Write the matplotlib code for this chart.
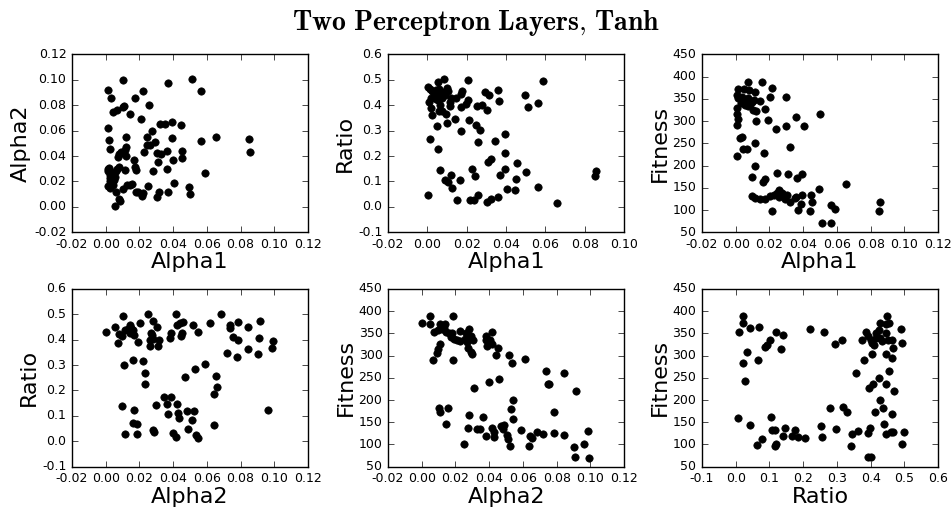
import numpy as np
import matplotlib
matplotlib.use("Agg")
import matplotlib.pyplot as plt

plt.style.use("classic")
plt.rcParams["axes.unicode_minus"] = False
plt.rcParams["mathtext.fontset"] = "cm"

# Alpha1 vs Alpha2
p1_x = [0.0102, 0.0512, 0.0014, 0.0219, 0.0563, 0.0370, 0.0030, 0.0171, 0.0258, 0.0108,
        0.0100, 0.0069, 0.0045, 0.0144, 0.0211, 0.0014, 0.0321, 0.0350, 0.0394, 0.0447,
        0.0272, 0.0120, 0.0244, 0.0394, 0.0563, 0.0656, 0.0848, 0.0858, 0.0022, 0.0026,
        0.0122, 0.0242, 0.0291, 0.0264, 0.0116, 0.0093, 0.0102, 0.0079, 0.0075, 0.0122,
        0.0228, 0.0305, 0.0325, 0.0362, 0.0451, 0.0451, 0.0400, 0.0167, 0.0309, 0.0173,
        0.0177, 0.0281, 0.0362, 0.0114, 0.0589, 0.0014, 0.0012, 0.0022, 0.0028, 0.0037,
        0.0049, 0.0063, 0.0069, 0.0077, 0.0026, 0.0024, 0.0037, 0.0041, 0.0028, 0.0063,
        0.0102, 0.0124, 0.0154, 0.0144, 0.0248, 0.0407, 0.0494, 0.0502, 0.0368, 0.0317,
        0.0305, 0.0220, 0.0213, 0.0191, 0.0177, 0.0079, 0.0085, 0.0053, 0.0049, 0.0055,
        0.0014]
p1_y = [0.0997, 0.1003, 0.0924, 0.0916, 0.0916, 0.0976, 0.0858, 0.0858, 0.0800, 0.0792,
        0.0789, 0.0761, 0.0747, 0.0732, 0.0695, 0.0624, 0.0650, 0.0653, 0.0666, 0.0647,
        0.0597, 0.0553, 0.0547, 0.0539, 0.0521, 0.0553, 0.0532, 0.0434, 0.0526, 0.0458,
        0.0468, 0.0489, 0.0513, 0.0489, 0.0445, 0.0429, 0.0424, 0.0413, 0.0389, 0.0403,
        0.0434, 0.0426, 0.0416, 0.0439, 0.0439, 0.0387, 0.0368, 0.0368, 0.0350, 0.0316,
        0.0289, 0.0279, 0.0300, 0.0287, 0.0263, 0.0297, 0.0279, 0.0305, 0.0253, 0.0239,
        0.0266, 0.0284, 0.0300, 0.0311, 0.0226, 0.0200, 0.0187, 0.0174, 0.0147, 0.0116,
        0.0137, 0.0171, 0.0184, 0.0174, 0.0166, 0.0192, 0.0155, 0.0103, 0.0121, 0.0118,
        0.0076, 0.0113, 0.0089, 0.0118, 0.0116, 0.0063, 0.0050, 0.0008, 0.0213, 0.0232,
        0.0161]

# Alpha1 vs Ratio
p2_x = [0.0084, 0.0055, 0.0208, 0.0590, 0.0003, 0.0014, 0.0024, 0.0034, 0.0044, 0.0058,
        0.0075, 0.0102, 0.0107, 0.0092, 0.0066, 0.0038, 0.0046, 0.0020, 0.0055, 0.0073,
        0.0007, 0.0118, 0.0147, 0.0174, 0.0169, 0.0208, 0.0198, 0.0171, 0.0114, 0.0114,
        0.0063, 0.0017, 0.0060, 0.0075, 0.0026, 0.0095, 0.0292, 0.0314, 0.0361, 0.0365,
        0.0252, 0.0280, 0.0302, 0.0494, 0.0512, 0.0564, 0.0140, 0.0213, 0.0246, 0.0266,
        0.0048, 0.0099, 0.0172, 0.0015, 0.0256, 0.0346, 0.0392, 0.0056, 0.0392, 0.0321,
        0.0310, 0.0454, 0.0065, 0.0225, 0.0397, 0.0503, 0.0370, 0.0240, 0.0119, 0.0092,
        0.0104, 0.0164, 0.0126, 0.0450, 0.0406, 0.0445, 0.0564, 0.0005, 0.0150, 0.0215,
        0.0239, 0.0256, 0.0302, 0.0322, 0.0360, 0.0660, 0.0859, 0.0853]
p2_y = [0.505, 0.492, 0.500, 0.495, 0.470, 0.463, 0.457, 0.453, 0.459, 0.466,
        0.453, 0.469, 0.457, 0.440, 0.437, 0.433, 0.424, 0.427, 0.419, 0.427,
        0.414, 0.427, 0.427, 0.455, 0.446, 0.420, 0.407, 0.394, 0.411, 0.397,
        0.401, 0.389, 0.377, 0.378, 0.360, 0.364, 0.453, 0.440, 0.462, 0.418,
        0.399, 0.401, 0.382, 0.442, 0.395, 0.408, 0.346, 0.344, 0.322, 0.304,
        0.319, 0.332, 0.300, 0.266, 0.257, 0.259, 0.285, 0.228, 0.212, 0.188,
        0.178, 0.171, 0.145, 0.148, 0.148, 0.136, 0.126, 0.122, 0.124, 0.105,
        0.097, 0.106, 0.076, 0.111, 0.071, 0.068, 0.080, 0.046, 0.027, 0.027,
        0.027, 0.048, 0.018, 0.031, 0.039, 0.014, 0.143, 0.122]

# Alpha1 vs Fitness
p3_x = [0.0075, 0.0153, 0.0214, 0.0012, 0.0048, 0.0081, 0.0115, 0.0300, 0.0204, 0.0145,
        0.0008, 0.0016, 0.0040, 0.0056, 0.0071, 0.0095, 0.0111, 0.0032, 0.0052, 0.0075,
        0.0087, 0.0006, 0.0105, 0.0119, 0.0173, 0.0008, 0.0012, 0.0008, 0.0119, 0.0194,
        0.0355, 0.0300, 0.0403, 0.0500, 0.0238, 0.0038, 0.0026, 0.0042, 0.0067, 0.0115,
        0.0319, 0.0167, 0.0010, 0.0115, 0.0095, 0.0242, 0.0310, 0.0391, 0.0363, 0.0173,
        0.0163, 0.0651, 0.0496, 0.0095, 0.0115, 0.0145, 0.0173, 0.0206, 0.0224, 0.0244,
        0.0258, 0.0272, 0.0258, 0.0286, 0.0304, 0.0294, 0.0319, 0.0349, 0.0359, 0.0393,
        0.0389, 0.0448, 0.0452, 0.0214, 0.0369, 0.0440, 0.0562, 0.0587, 0.0510, 0.0563,
        0.0857, 0.0849]
p3_y = [389, 389, 375, 372, 372, 369, 366, 354, 354, 346,
        359, 351, 355, 348, 351, 344, 348, 340, 337, 333,
        338, 329, 325, 322, 328, 316, 305, 292, 301, 303,
        309, 290, 290, 316, 283, 265, 262, 237, 237, 250,
        241, 229, 221, 200, 175, 184, 182, 182, 173, 170,
        163, 159, 148, 132, 127, 125, 125, 131, 134, 138,
        145, 138, 130, 133, 134, 125, 119, 127, 130, 133,
        113, 134, 119, 99, 101, 99, 112, 102, 70, 72,
        119, 98]

# Alpha2 vs Ratio
p4_x = [0.0004, 0.0055, 0.0104, 0.0081, 0.0073, 0.0098, 0.0112, 0.0132, 0.0144, 0.0152,
        0.0163, 0.0142, 0.0169, 0.0191, 0.0205, 0.0252, 0.0283, 0.0305, 0.0266, 0.0274,
        0.0262, 0.0281, 0.0315, 0.0262, 0.0309, 0.0417, 0.0423, 0.0443, 0.0457, 0.0390,
        0.0384, 0.0451, 0.0447, 0.0516, 0.0545, 0.0616, 0.0683, 0.0738, 0.0738, 0.0787,
        0.0844, 0.0915, 0.0754, 0.0785, 0.0911, 0.0990, 0.0986, 0.0722, 0.0780, 0.0843,
        0.0904, 0.0110, 0.0163, 0.0224, 0.0232, 0.0232, 0.0589, 0.0531, 0.0470, 0.0652,
        0.0659, 0.0640, 0.0346, 0.0386, 0.0299, 0.0362, 0.0425, 0.0094, 0.0167, 0.0368,
        0.0431, 0.0433, 0.0482, 0.0526, 0.0510, 0.0490, 0.0161, 0.0185, 0.0116, 0.0185,
        0.0281, 0.0287, 0.0402, 0.0417, 0.0537, 0.0545, 0.0640, 0.0963]
p4_y = [0.429, 0.449, 0.492, 0.422, 0.387, 0.413, 0.437, 0.442, 0.458, 0.446,
        0.437, 0.426, 0.420, 0.391, 0.466, 0.500, 0.472, 0.449, 0.426, 0.417,
        0.400, 0.403, 0.397, 0.375, 0.376, 0.500, 0.457, 0.466, 0.468, 0.426,
        0.407, 0.426, 0.413, 0.459, 0.432, 0.466, 0.503, 0.457, 0.446, 0.470,
        0.450, 0.472, 0.411, 0.397, 0.407, 0.395, 0.366, 0.347, 0.333, 0.363,
        0.343, 0.300, 0.321, 0.318, 0.268, 0.226, 0.303, 0.283, 0.255, 0.258,
        0.212, 0.188, 0.176, 0.174, 0.143, 0.147, 0.146, 0.138, 0.124, 0.107,
        0.111, 0.093, 0.121, 0.120, 0.082, 0.050, 0.072, 0.070, 0.028, 0.028,
        0.046, 0.038, 0.034, 0.017, 0.025, 0.013, 0.066, 0.125]

# Alpha2 vs Fitness
p5_x = [0.0000, 0.0051, 0.0047, 0.0184, 0.0111, 0.0138, 0.0075, 0.0099, 0.0119, 0.0134,
        0.0146, 0.0162, 0.0182, 0.0172, 0.0192, 0.0206, 0.0225, 0.0229, 0.0281, 0.0265,
        0.0257, 0.0269, 0.0292, 0.0304, 0.0277, 0.0289, 0.0300, 0.0107, 0.0095, 0.0089,
        0.0069, 0.0184, 0.0417, 0.0383, 0.0379, 0.0407, 0.0419, 0.0385, 0.0455, 0.0443,
        0.0520, 0.0534, 0.0615, 0.0739, 0.0747, 0.0755, 0.0844, 0.0915, 0.0401, 0.0458,
        0.0312, 0.0543, 0.0530, 0.0543, 0.0783, 0.0105, 0.0111, 0.0158, 0.0144, 0.0279,
        0.0273, 0.0364, 0.0330, 0.0346, 0.0383, 0.0419, 0.0427, 0.0429, 0.0470, 0.0486,
        0.0482, 0.0504, 0.0510, 0.0526, 0.0587, 0.0644, 0.0656, 0.0684, 0.0719, 0.0787,
        0.0842, 0.0638, 0.0249, 0.0905, 0.0909, 0.0962, 0.0986, 0.0990]
p5_y = [374, 390, 370, 390, 372, 372, 353, 357, 359, 361,
        353, 350, 351, 342, 338, 336, 333, 356, 360, 350,
        338, 331, 344, 336, 316, 309, 303, 327, 315, 305,
        290, 290, 353, 345, 336, 335, 326, 321, 316, 302,
        301, 283, 292, 265, 235, 235, 261, 220, 241, 248,
        227, 199, 180, 158, 172, 183, 174, 183, 147, 167,
        137, 161, 134, 134, 118, 138, 127, 117, 141, 144,
        135, 122, 113, 97, 133, 120, 114, 129, 123, 126,
        122, 97, 101, 95, 71, 100, 131, 69]

# Ratio vs Fitness
p6_x = [0.0208, 0.0208, 0.0109, 0.0427, 0.0685, 0.1190, 0.1399, 0.1002, 0.0913, 0.0853,
        0.1339, 0.0327, 0.0208, 0.0655, 0.0278, 0.2212, 0.2619, 0.2956, 0.3145, 0.3730,
        0.3571, 0.3790, 0.3948, 0.4077, 0.4236, 0.4266, 0.4365, 0.4464, 0.4544, 0.4692,
        0.4117, 0.4395, 0.4623, 0.3849, 0.3929, 0.3998, 0.4048, 0.4107, 0.4167, 0.4246,
        0.4147, 0.4266, 0.4345, 0.4444, 0.4524, 0.4623, 0.4266, 0.4444, 0.4544, 0.4484,
        0.4891, 0.4940, 0.4663, 0.4623, 0.4444, 0.4048, 0.0060, 0.0427, 0.0625, 0.0774,
        0.1032, 0.1071, 0.1171, 0.1190, 0.1151, 0.1389, 0.1448, 0.1667, 0.1746, 0.1845,
        0.2054, 0.2530, 0.2550, 0.2788, 0.2976, 0.3194, 0.3304, 0.3433, 0.3403, 0.3611,
        0.3929, 0.3978, 0.3909, 0.4018, 0.4464, 0.4603, 0.4673, 0.4990, 0.4940]
p6_y = [390, 373, 354, 361, 364, 353, 346, 335, 323, 320,
        314, 309, 283, 290, 242, 359, 352, 326, 334, 335,
        261, 290, 226, 235, 249, 200, 182, 235, 265, 220,
        173, 147, 168, 352, 343, 335, 328, 324, 350, 358,
        339, 339, 332, 350, 335, 336, 374, 371, 373, 390,
        359, 329, 316, 294, 304, 303, 159, 144, 98, 112,
        161, 132, 133, 101, 97, 118, 136, 119, 133, 116,
        114, 142, 116, 181, 134, 184, 173, 124, 96, 131,
        126, 137, 71, 72, 123, 127, 128, 129, 101]

panels = [
    (p1_x, p1_y, "Alpha1", "Alpha2", (-0.02, 0.12), (-0.02, 0.12)),
    (p2_x, p2_y, "Alpha1", "Ratio", (-0.02, 0.10), (-0.1, 0.6)),
    (p3_x, p3_y, "Alpha1", "Fitness", (-0.02, 0.12), (50, 450)),
    (p4_x, p4_y, "Alpha2", "Ratio", (-0.02, 0.12), (-0.1, 0.6)),
    (p5_x, p5_y, "Alpha2", "Fitness", (-0.02, 0.12), (50, 450)),
    (p6_x, p6_y, "Ratio", "Fitness", (-0.1, 0.6), (50, 450)),
]

fig = plt.figure(figsize=(9.52, 5.11), dpi=100, facecolor="white")
lefts = [0.0756, 0.4076, 0.7374]
bottoms = [0.5454, 0.0867]

for i, (x, y, xl, yl, xlim, ylim) in enumerate(panels):
    ax = fig.add_axes([lefts[i % 3], bottoms[i // 3], 0.248, 0.348])
    ax.scatter(x, y, s=28, c="black", edgecolors="black", linewidths=0.5)
    ax.set_xlim(xlim)
    ax.set_ylim(ylim)
    ax.set_xlabel(xl, fontsize=16, labelpad=1)
    ax.set_ylabel(yl, fontsize=16, labelpad=2)
    ax.tick_params(labelsize=9)

fig.suptitle(r"$\mathbf{Two\ Perceptron\ Layers{,}\ Tanh}$", fontsize=20, y=0.985)

fig.savefig("out.png", dpi=100, facecolor="white")
